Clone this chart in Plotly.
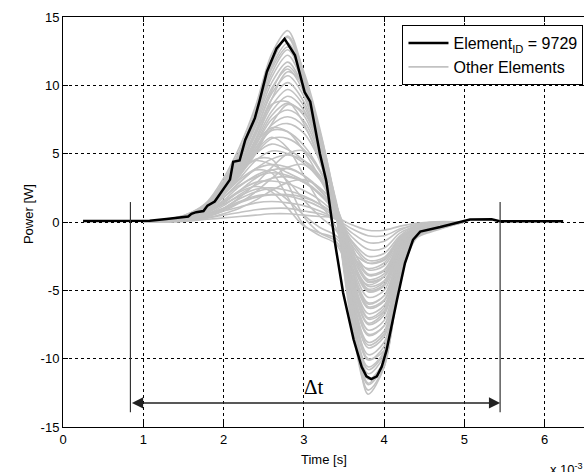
import plotly.graph_objects as go

# Time axis in ms (shown as x 10^-3 s)
element_t = [0.25, 0.8, 1.08, 1.29, 1.45, 1.56, 1.6, 1.66, 1.75, 1.8, 1.89, 1.95, 2.0, 2.04,
             2.08, 2.12, 2.2, 2.27, 2.33, 2.39, 2.45, 2.54, 2.66, 2.76, 2.89, 3.01, 3.08, 3.16,
             3.2, 3.28, 3.33, 3.39, 3.49, 3.62, 3.72, 3.78, 3.84, 3.91, 3.97, 4.03, 4.16, 4.26,
             4.36, 4.45, 4.7, 4.95, 5.07, 5.34, 5.44, 6.23]
element_p = [0.08, 0.08, 0.1, 0.22, 0.3, 0.4, 0.6, 0.72, 0.8, 1.2, 1.5, 2.0, 2.4, 2.8,
             3.1, 4.4, 4.5, 6.0, 6.8, 7.6, 8.9, 11.0, 12.7, 13.4, 12.2, 9.5, 8.8, 6.4,
             5.0, 3.0, 0.8, -1.6, -5.2, -8.6, -10.6, -11.3, -11.5, -11.3, -10.6, -9.4, -5.7, -3.0,
             -1.3, -0.7, -0.37, 0.0, 0.18, 0.2, 0.06, 0.06]

# Sample times shared by the other elements
other_t = [1.0, 1.4, 1.6, 1.8, 2.0, 2.2, 2.4, 2.6, 2.8, 3.0, 3.2, 3.4, 3.6, 3.8, 4.0, 4.2, 4.4, 4.6, 5.0]

other_p = [
    [0, 0.3, 0.7, 1.5, 3.2, 5.5, 8.5, 12.3, 14.0, 10.8, 6.2, 0.6, -7.6, -12.3, -10.6, -4.2, -1.2, -0.7, 0],
    [0, 0.3, 0.7, 1.4, 3.0, 5.2, 8.2, 11.9, 13.5, 10.6, 6.4, 0.8, -7.2, -11.9, -10.4, -4.1, -1.1, -0.6, 0],
    [0, 0.2, 0.6, 1.4, 2.9, 5.0, 7.9, 11.4, 13.1, 10.5, 6.3, 0.7, -7.0, -11.5, -10.2, -4.1, -1.1, -0.6, 0],
    [0, 0.2, 0.6, 1.4, 2.9, 5.0, 7.8, 11.2, 12.8, 10.4, 6.0, 0.5, -7.0, -11.1, -9.8, -4.0, -1.0, -0.6, 0],
    [0, 0.2, 0.6, 1.3, 2.7, 4.7, 7.4, 10.6, 12.2, 10.0, 6.0, 0.8, -6.6, -10.6, -9.5, -3.9, -1.0, -0.6, 0],
    [0, 0.2, 0.6, 1.3, 2.7, 4.6, 7.2, 10.2, 11.7, 9.8, 5.9, 0.9, -6.2, -10.1, -9.1, -3.8, -1.0, -0.5, 0],
    [0, 0.2, 0.6, 1.3, 2.6, 4.5, 7.0, 9.8, 11.2, 9.5, 5.8, 1.0, -5.9, -9.7, -8.8, -3.7, -0.9, -0.5, 0],
    [0, 0.2, 0.5, 1.2, 2.5, 4.3, 6.7, 9.4, 10.7, 9.2, 5.6, 1.1, -5.6, -9.2, -8.4, -3.5, -0.9, -0.5, 0],
    [0, 0.2, 0.5, 1.2, 2.4, 4.1, 6.4, 9.0, 10.2, 8.8, 5.5, 1.2, -5.3, -8.8, -8.0, -3.4, -0.9, -0.5, 0],
    [0, 0.2, 0.5, 1.1, 2.3, 3.9, 6.1, 8.5, 9.7, 8.5, 5.4, 1.2, -5.0, -8.3, -7.6, -3.2, -0.8, -0.5, 0],
    [0, 0.2, 0.5, 1.1, 2.2, 3.8, 5.9, 8.1, 9.2, 8.2, 5.3, 1.3, -4.7, -7.9, -7.2, -3.0, -0.8, -0.4, 0],
    [0, 0.2, 0.5, 1.1, 2.2, 3.7, 5.7, 7.8, 8.7, 7.8, 5.1, 1.3, -4.4, -7.5, -6.8, -2.9, -0.8, -0.4, 0],
    [0, 0.2, 0.5, 1.1, 2.2, 3.7, 5.6, 7.5, 8.2, 7.4, 4.9, 1.4, -4.1, -7.1, -6.5, -2.7, -0.7, -0.4, 0],
    [0, 0.2, 0.5, 1.0, 2.1, 3.6, 5.4, 7.1, 7.7, 7.0, 4.7, 1.4, -3.9, -6.7, -6.1, -2.6, -0.7, -0.4, 0],
    [0, 0.2, 0.5, 1.0, 2.0, 3.4, 5.2, 6.8, 7.2, 6.5, 4.5, 1.4, -3.6, -6.3, -5.8, -2.4, -0.7, -0.4, 0],
    [0, 0.2, 0.5, 1.1, 2.2, 3.7, 5.4, 6.7, 6.6, 5.6, 3.8, 1.1, -3.4, -5.9, -5.4, -2.3, -0.6, -0.3, 0],
    [0, 0.2, 0.5, 1.0, 2.0, 3.4, 5.0, 6.1, 6.1, 5.3, 3.7, 1.2, -3.2, -5.5, -5.0, -2.1, -0.6, -0.3, 0],
    [0, 0.2, 0.5, 1.1, 2.2, 3.6, 5.0, 5.7, 5.3, 4.5, 3.2, 1.0, -3.0, -5.1, -4.7, -2.0, -0.6, -0.3, 0],
    [0, 0.2, 0.4, 1.0, 2.0, 3.2, 4.5, 5.2, 5.0, 4.3, 3.1, 1.1, -2.7, -4.7, -4.3, -1.8, -0.5, -0.3, 0],
    [0, 0.2, 0.5, 1.2, 2.4, 3.8, 4.5, 4.2, 3.6, 3.0, 2.1, 0.7, -2.5, -4.3, -4.0, -1.7, -0.5, -0.2, 0],
    [0, 0.2, 0.4, 1.0, 2.0, 3.1, 3.9, 4.2, 4.0, 3.4, 2.3, 0.8, -2.2, -3.9, -3.6, -1.5, -0.5, -0.2, 0],
    [0, 0.2, 0.4, 0.9, 1.8, 2.7, 3.3, 3.6, 3.4, 2.9, 2.0, 0.7, -2.0, -3.5, -3.2, -1.4, -0.4, -0.2, 0],
    [0, 0.1, 0.3, 0.8, 1.5, 2.3, 2.9, 3.0, 2.8, 2.3, 1.6, 0.5, -1.7, -3.0, -2.8, -1.2, -0.4, -0.2, 0],
    [0, 0.1, 0.3, 0.7, 1.3, 1.9, 2.4, 2.5, 2.3, 1.9, 1.3, 0.4, -1.4, -2.5, -2.3, -1.0, -0.3, -0.1, 0],
    [0, 0.1, 0.3, 0.6, 1.0, 1.5, 1.9, 2.0, 1.9, 1.6, 1.1, 0.3, -1.1, -2.0, -1.9, -0.8, -0.3, -0.1, 0],
    [0, 0.1, 0.2, 0.4, 0.8, 1.1, 1.4, 1.5, 1.4, 1.2, 0.8, 0.2, -0.8, -1.5, -1.4, -0.6, -0.2, -0.1, 0],
    [0, 0.1, 0.2, 0.3, 0.5, 0.7, 0.9, 1.0, 1.0, 0.8, 0.6, 0.2, -0.5, -1.0, -1.0, -0.5, -0.2, 0, 0],
    [0, 0, 0.1, 0.2, 0.3, 0.4, 0.5, 0.6, 0.6, 0.5, 0.4, 0.3, -0.2, -0.6, -0.6, -0.3, -0.1, 0, 0],
    [0, 0.2, 0.5, 1.2, 2.4, 3.6, 4.6, 4.6, 2.8, 0.4, -0.8, -1.4, -3.4, -4.6, -4.0, -1.7, -0.6, -0.2, 0],
    [0, 0.1, 0.4, 0.9, 1.8, 2.9, 3.8, 3.6, 1.8, -0.2, -1.0, -1.6, -4.0, -6.0, -5.4, -2.3, -0.8, -0.3, 0],
    [0, 0.1, 0.3, 0.7, 1.4, 2.2, 2.6, 2.2, 1.0, -0.3, -0.8, -1.2, -2.6, -3.4, -3.0, -1.3, -0.5, -0.2, 0],
    [0, 0.2, 0.6, 1.4, 2.9, 5.0, 8.0, 11.6, 13.6, 11.0, 6.8, 1.2, -5.6, -12.6, -10.6, -3.9, -1.0, -0.6, 0],
    [0, 0.1, 0.2, 0.5, 1.0, 1.8, 2.8, 4.0, 5.0, 5.2, 3.8, 1.2, -3.4, -6.2, -5.7, -2.4, -0.7, -0.4, 0],
    [0, 0.1, 0.2, 0.4, 0.8, 1.4, 2.2, 3.2, 4.0, 4.2, 3.2, 1.3, -2.6, -5.0, -4.6, -1.9, -0.6, -0.3, 0],
    [0, 0.1, 0.1, 0.3, 0.6, 1.0, 1.6, 2.3, 2.9, 3.1, 2.5, 1.1, -1.8, -3.8, -3.5, -1.5, -0.5, -0.2, 0],
    [0, 0.2, 0.5, 1.2, 2.4, 4.0, 6.4, 8.6, 8.8, 7.2, 4.4, 0.6, -5.2, -9.0, -8.2, -3.4, -0.9, -0.5, 0],
    [0, 0.2, 0.5, 1.2, 2.4, 4.0, 5.8, 6.9, 6.6, 5.2, 3.2, 0.6, -4.0, -7.0, -6.3, -2.6, -0.7, -0.4, 0],
    [0, 0.2, 0.4, 1.0, 2.2, 3.8, 6.0, 9.0, 11.0, 10.0, 6.6, 1.4, -5.0, -10.0, -9.4, -3.8, -1.0, -0.5, 0],
    [0, 0.2, 0.6, 1.3, 2.8, 4.8, 7.6, 10.9, 12.6, 10.3, 6.2, 0.9, -6.0, -11.8, -10.1, -4.0, -1.1, -0.6, 0],
    [0, 0.2, 0.4, 0.9, 1.8, 2.9, 3.9, 4.6, 4.9, 4.5, 3.4, 1.2, -2.4, -4.4, -4.0, -1.7, -0.5, -0.2, 0],
    [0, 0.1, 0.3, 0.7, 1.4, 2.3, 3.2, 3.8, 3.9, 3.4, 2.4, 0.8, -2.8, -4.9, -4.4, -1.8, -0.5, -0.2, 0],
    [0, 0.1, 0.3, 0.6, 1.2, 2.0, 2.7, 3.2, 3.3, 2.9, 2.0, 0.6, -2.2, -4.2, -3.8, -1.6, -0.5, -0.2, 0],
    [0, 0.1, 0.3, 0.8, 1.6, 2.6, 3.4, 3.8, 3.0, 1.6, 0.4, -0.6, -2.8, -5.0, -4.6, -1.9, -0.6, -0.2, 0],
    [0, 0.1, 0.2, 0.5, 1.0, 1.7, 2.2, 2.4, 1.6, 0.5, -0.4, -1.0, -2.2, -3.0, -2.7, -1.2, -0.4, -0.1, 0],
    [0, 0.2, 0.5, 1.1, 2.2, 3.6, 5.2, 6.2, 5.4, 3.4, 1.4, -0.4, -4.4, -7.4, -6.6, -2.8, -0.8, -0.4, 0],
    [0, 0.1, 0.2, 0.5, 0.9, 1.4, 1.8, 2.0, 2.0, 1.8, 1.3, 0.4, -1.5, -2.8, -2.6, -1.1, -0.4, -0.1, 0],
    [0, 0.1, 0.4, 1.0, 2.0, 3.4, 5.0, 7.2, 8.6, 8.0, 5.6, 1.6, -4.6, -8.2, -7.6, -3.2, -0.9, -0.4, 0],
    [0, 0.2, 0.5, 1.2, 2.5, 4.2, 6.6, 9.6, 11.4, 9.8, 6.2, 1.2, -6.4, -10.8, -9.6, -3.9, -1.0, -0.5, 0],
]

# Duration marker (start/end times, arrow level, bracket extent)
dt_start, dt_end = 0.84, 5.445
dt_level = -13.24
bracket_top, bracket_bottom = 1.46, -13.92

x_ticks = [0, 1, 2, 3, 4, 5, 6]
y_ticks = [-15, -10, -5, 0, 5, 10, 15]

FONT = "Liberation Sans, Arial, Helvetica, sans-serif"
GREY = "#c2c2c2"

fig = go.Figure()

for i, series in enumerate(other_p):
    fig.add_trace(go.Scatter(
        x=other_t, y=series, mode="lines",
        line=dict(color=GREY, width=1.6, shape="spline", smoothing=0.9),
        name="Other Elements", showlegend=(i == 0), legendrank=2,
        hoverinfo="skip",
    ))

fig.add_trace(go.Scatter(
    x=element_t, y=element_p, mode="lines",
    line=dict(color="black", width=2.5),
    name="Element<sub>ID</sub> = 9729", legendrank=1,
))

# Bracket lines marking the interval
for xv in (dt_start, dt_end):
    fig.add_shape(type="line", xref="x", yref="y", x0=xv, x1=xv,
                  y0=bracket_bottom, y1=bracket_top,
                  line=dict(color="#333333", width=1.2))

# Double-headed arrow across the interval
fig.add_annotation(x=dt_end, y=dt_level, ax=dt_start, ay=dt_level,
                   xref="x", yref="y", axref="x", ayref="y",
                   showarrow=True, arrowhead=2, startarrowhead=2,
                   arrowside="end+start", arrowsize=1.4, startarrowsize=1.4,
                   arrowwidth=1.6, arrowcolor="#222222", text="")
fig.add_annotation(x=(dt_start + dt_end) / 2 - 0.02, y=-12.06, xref="x", yref="y",
                   text="Δt", showarrow=False,
                   font=dict(family="Liberation Serif, Times New Roman, serif", size=21, color="black"))

axis_common = dict(
    showline=True, linecolor="black", linewidth=1, mirror="ticks",
    ticks="inside", ticklen=5, tickcolor="black", tickwidth=1,
    showgrid=True, gridcolor="black", gridwidth=1, griddash="3px,3px",
    zeroline=False, tickfont=dict(family=FONT, size=13, color="black"),
)

fig.update_xaxes(range=[0, 6.49], tickvals=x_ticks, ticktext=[str(v) for v in x_ticks], **axis_common)
fig.update_yaxes(range=[-15, 15], tickvals=y_ticks, ticktext=[str(v) for v in y_ticks], **axis_common)

fig.add_annotation(xref="paper", yref="paper", x=0.5, y=-0.055, yanchor="top",
                   text="Time [s]", showarrow=False,
                   font=dict(family=FONT, size=13, color="black"))
fig.add_annotation(xref="paper", yref="paper", x=-0.083, y=0.52, textangle=-90,
                   text="Power [W]", showarrow=False,
                   font=dict(family=FONT, size=13, color="black"))
fig.add_annotation(xref="paper", yref="paper", x=0.93, y=-0.078, xanchor="left", yanchor="top",
                   text="x 10<sup>-3</sup>", showarrow=False,
                   font=dict(family=FONT, size=13, color="black"))

fig.update_layout(
    width=584, height=472,
    margin=dict(l=63, r=0, t=17, b=45),
    paper_bgcolor="white", plot_bgcolor="white",
    showlegend=True,
    legend=dict(x=0.999, xanchor="right", y=0.98, yanchor="top",
                bgcolor="white", bordercolor="black", borderwidth=1,
                font=dict(family=FONT, size=16, color="black"),
                itemwidth=40, tracegroupgap=2),
)

fig.write_html("out.html")
